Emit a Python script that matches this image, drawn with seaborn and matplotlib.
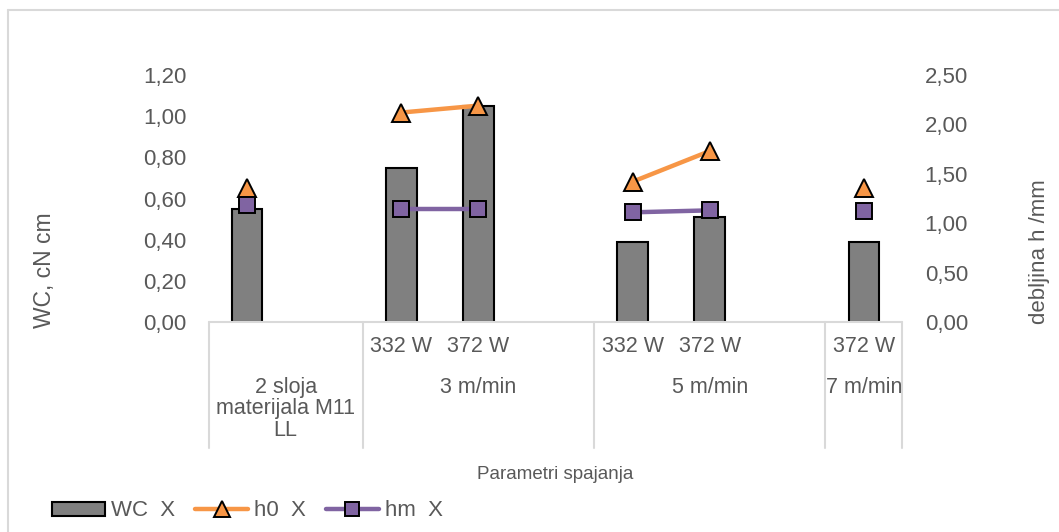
import numpy as np
import pandas as pd
import matplotlib
matplotlib.use("Agg")
import matplotlib.pyplot as plt
from matplotlib.lines import Line2D
from matplotlib.patches import Patch
from matplotlib.ticker import FuncFormatter, MultipleLocator
import seaborn as sns

# --- data (blank slots = empty Excel categories between groups) ---
power_labels = ["", "", "332 W", "372 W", "", "332 W", "372 W", "", "372 W"]
speed_groups = ["2 sloja\nmaterijala M11\nLL", "3 m/min", "5 m/min", "7 m/min"]
group_sizes = [2, 3, 3, 1]
wc = [0.55, np.nan, 0.75, 1.05, np.nan, 0.39, 0.51, np.nan, 0.39]
h0 = [1.36, np.nan, 2.12, 2.19, np.nan, 1.42, 1.73, np.nan, 1.36]
hm = [1.18, np.nan, 1.14, 1.14, np.nan, 1.11, 1.13, np.nan, 1.12]

GRAY_TXT = "#595959"
GRID = "#D9D9D9"
BAR = "#808080"
ORANGE = "#F79646"
PURPLE = "#8064A2"

sns.set_style("white")
plt.rcParams["font.family"] = ["Liberation Sans", "DejaVu Sans"]

df = pd.DataFrame({"pos": range(len(power_labels)), "wc": wc, "h0": h0, "hm": hm})
df["grp"] = df["wc"].isna().cumsum()

fig = plt.figure(figsize=(10.59, 5.32), dpi=100)
ax = fig.add_axes([208.5 / 1059, 210 / 532, 694 / 1059, 247 / 532])
ax2 = ax.twinx()

# bars on left axis
sns.barplot(data=df, x="pos", y="wc", order=list(range(len(power_labels))),
            color=BAR, saturation=1, edgecolor="black", linewidth=1.5,
            width=0.4, ax=ax)

# lines on right axis, broken at the empty slots
sns.lineplot(data=df.dropna(subset=["h0"]), x="pos", y="h0", units="grp", estimator=None,
             color=ORANGE, lw=3.2, marker="^", markersize=13.5,
             markerfacecolor=ORANGE, markeredgecolor="black", markeredgewidth=1.4, ax=ax2)
sns.lineplot(data=df.dropna(subset=["hm"]), x="pos", y="hm", units="grp", estimator=None,
             color=PURPLE, lw=3.2, marker="s", markersize=11,
             markerfacecolor=PURPLE, markeredgecolor="black", markeredgewidth=1.4, ax=ax2)

n = len(power_labels)
for a in (ax, ax2):
    a.set_xlim(-0.5, n - 0.5)
    for s in a.spines.values():
        s.set_visible(False)
    a.set_xlabel("")
    a.set_ylabel("")
    a.tick_params(length=0, labelsize=16, labelcolor=GRAY_TXT, pad=16)

ax.set_ylim(0, 1.2)
ax.yaxis.set_major_locator(MultipleLocator(0.2))
ax2.set_ylim(0, 2.5)
ax2.yaxis.set_major_locator(MultipleLocator(0.5))
fmt = FuncFormatter(lambda v, p: f"{v:.2f}".replace(".", ","))
ax.yaxis.set_major_formatter(fmt)
ax2.yaxis.set_major_formatter(fmt)
ax.set_xticks([])
ax2.set_xticks([])

# multi-level category table under the plot
tr = ax.get_xaxis_transform()
ax.plot([-0.5, n - 0.5], [0, 0], transform=tr, color=GRID, lw=1.5, clip_on=False)
bounds = np.concatenate([[0], np.cumsum(group_sizes)]) - 0.5
for b in bounds:
    ax.plot([b, b], [0, -0.51], transform=tr, color=GRID, lw=1.5, clip_on=False)
for i, lab in enumerate(power_labels):
    if lab:
        ax.text(i, -0.101, lab, transform=tr, ha="center", va="center",
                fontsize=15.5, color=GRAY_TXT)
for lab, lo, hi in zip(speed_groups, bounds[:-1], bounds[1:]):
    ax.text((lo + hi) / 2, -0.221, lab, transform=tr, ha="center", va="top",
            fontsize=15.5, color=GRAY_TXT, linespacing=1.04)

ax.text(0.5, -0.617, "Parametri spajanja", transform=ax.transAxes, ha="center",
        va="center", fontsize=13.5, color=GRAY_TXT)

fig.text(45 / 1059, 1 - 270 / 532, "WC, cN cm", rotation=90, ha="center", va="center",
         fontsize=16.5, color=GRAY_TXT)
fig.text(1040 / 1059, 1 - 252 / 532, "debljina h /mm", rotation=90, ha="center",
         va="center", fontsize=16, color=GRAY_TXT)

# legend
handles = [
    Patch(facecolor=BAR, edgecolor="black", linewidth=1.5),
    Line2D([], [], color=ORANGE, lw=3.2, marker="^", markersize=11,
           markerfacecolor=ORANGE, markeredgecolor="black", markeredgewidth=1.4),
    Line2D([], [], color=PURPLE, lw=3.2, marker="s", markersize=10,
           markerfacecolor=PURPLE, markeredgecolor="black", markeredgewidth=1.4),
]
fig.legend(handles, ["WC  X", "h0  X", "hm  X"], loc="center left",
           bbox_to_anchor=(52 / 1059, 1 - 511 / 532), ncol=3, frameon=False,
           fontsize=16, labelcolor=GRAY_TXT, handlelength=2.4, handleheight=0.6,
           handletextpad=0.25, columnspacing=0.9, borderpad=0, borderaxespad=0)

# chart area border (only left and top visible in the crop)
fig.add_artist(Line2D([7.5 / 1059, 7.5 / 1059], [0, 1 - 9.5 / 532], color=GRID, lw=1.5))
fig.add_artist(Line2D([7.5 / 1059, 1], [1 - 9.5 / 532, 1 - 9.5 / 532], color=GRID, lw=1.5))

fig.savefig("out.png", dpi=100)
